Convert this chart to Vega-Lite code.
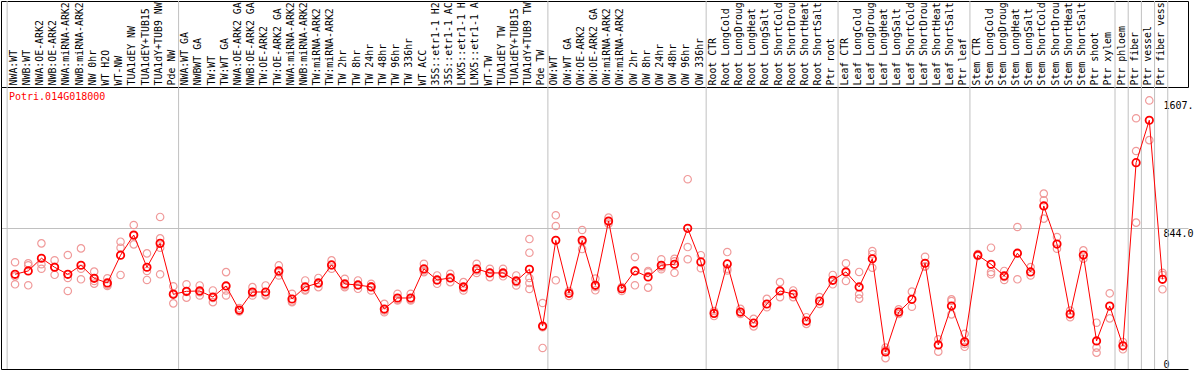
{
"$schema": "https://vega.github.io/schema/vega-lite/v6.json",
"padding": 0,
"spacing": 0,
"bounds": "flush",
"background": "white",
"config": {
  "view": {"stroke": null},
  "font": "DejaVu Sans Mono",
  "axis": {"labelFont": "DejaVu Sans Mono", "labelFontSize": 10, "labelColor": "#000"}
},
"datasets": {
  "starts": [{"c": "NWA:WT"}],
  "ends": [{"c": "Pde NW"}, {"c": "Pde TW"}, {"c": "OW 336hr"}, {"c": "Ptr root"}, {"c": "Ptr leaf"}, {"c": "Ptr xylem"}, {"c": "Ptr phloem"}, {"c": "Ptr fiber"}, {"c": "Ptr vessel"}, {"c": "Ptr fiber vessel"}],
  "means": [
    {"i": 1, "c": "NWA:WT", "v": 567}, {"i": 2, "c": "NWB:WT", "v": 587}, {"i": 3, "c": "NWA:OE-ARK2", "v": 663}, {"i": 4, "c": "NWB:OE-ARK2", "v": 609},
    {"i": 5, "c": "NWA:miRNA-ARK2", "v": 567}, {"i": 6, "c": "NWB:miRNA-ARK2", "v": 621}, {"i": 7, "c": "NW 0hr", "v": 543}, {"i": 8, "c": "WT H2O", "v": 515},
    {"i": 9, "c": "WT-NW", "v": 681}, {"i": 10, "c": "TUA1dEY NW", "v": 802}, {"i": 11, "c": "TUA1dEY+TUB15 NW", "v": 609}, {"i": 12, "c": "TUA1dY+TUB9 NW", "v": 752},
    {"i": 13, "c": "Pde NW", "v": 447}, {"i": 14, "c": "NWA:WT GA", "v": 465}, {"i": 15, "c": "NWBWT GA", "v": 467}, {"i": 16, "c": "TW:WT", "v": 431},
    {"i": 17, "c": "TW:WT GA", "v": 497}, {"i": 18, "c": "NWA:OE-ARK2 GA", "v": 353}, {"i": 19, "c": "NWB:OE-ARK2 GA", "v": 461}, {"i": 20, "c": "TW:OE-ARK2", "v": 461},
    {"i": 21, "c": "TW:OE-ARK2 GA", "v": 587}, {"i": 22, "c": "NWA:miRNA-ARK2 GA", "v": 419}, {"i": 23, "c": "NWB:miRNA-ARK2 GA", "v": 491}, {"i": 24, "c": "TW:miRNA-ARK2", "v": 515},
    {"i": 25, "c": "TW:miRNA-ARK2 GA", "v": 623}, {"i": 26, "c": "TW 2hr", "v": 509}, {"i": 27, "c": "TW 8hr", "v": 503}, {"i": 28, "c": "TW 24hr", "v": 491},
    {"i": 29, "c": "TW 48hr", "v": 359}, {"i": 30, "c": "TW 96hr", "v": 425}, {"i": 31, "c": "TW 336hr", "v": 425}, {"i": 32, "c": "WT ACC", "v": 599},
    {"i": 33, "c": "35S::etr1-1 H2O", "v": 533}, {"i": 34, "c": "35S::etr1-1 ACC", "v": 545}, {"i": 35, "c": "LMX5::etr1-1 H2O", "v": 491}, {"i": 36, "c": "LMX5::etr1-1 ACC", "v": 599},
    {"i": 37, "c": "WT-TW", "v": 575}, {"i": 38, "c": "TUA1dEY TW", "v": 575}, {"i": 39, "c": "TUA1dEY+TUB15 TW", "v": 527}, {"i": 40, "c": "TUA1dY+TUB9 TW", "v": 597},
    {"i": 41, "c": "Pde TW", "v": 257}, {"i": 42, "c": "OW:WT", "v": 770}, {"i": 43, "c": "OW:WT GA", "v": 453}, {"i": 44, "c": "OW:OE-ARK2", "v": 770},
    {"i": 45, "c": "OW:OE-ARK2 GA", "v": 501}, {"i": 46, "c": "OW:miRNA-ARK2", "v": 886}, {"i": 47, "c": "OW:miRNA-ARK2 GA", "v": 481}, {"i": 48, "c": "OW 2hr", "v": 587},
    {"i": 49, "c": "OW 8hr", "v": 551}, {"i": 50, "c": "OW 24hr", "v": 621}, {"i": 51, "c": "OW 48hr", "v": 627}, {"i": 52, "c": "OW 96hr", "v": 842},
    {"i": 53, "c": "OW 336hr", "v": 641}, {"i": 54, "c": "Root CTR", "v": 333}, {"i": 55, "c": "Root LongCold", "v": 629}, {"i": 56, "c": "Root LongDrought", "v": 341},
    {"i": 57, "c": "Root LongHeat", "v": 275}, {"i": 58, "c": "Root LongSalt", "v": 389}, {"i": 59, "c": "Root ShortCold", "v": 467}, {"i": 60, "c": "Root ShortDrought", "v": 449},
    {"i": 61, "c": "Root ShortHeat", "v": 287}, {"i": 62, "c": "Root ShortSalt", "v": 407}, {"i": 63, "c": "Ptr root", "v": 531}, {"i": 64, "c": "Leaf CTR", "v": 581},
    {"i": 65, "c": "Leaf LongCold", "v": 491}, {"i": 66, "c": "Leaf LongDrought", "v": 660}, {"i": 67, "c": "Leaf LongHeat", "v": 102}, {"i": 68, "c": "Leaf LongSalt", "v": 341},
    {"i": 69, "c": "Leaf ShortCold", "v": 417}, {"i": 70, "c": "Leaf ShortDrought", "v": 633}, {"i": 71, "c": "Leaf ShortHeat", "v": 144}, {"i": 72, "c": "Leaf ShortSalt", "v": 377},
    {"i": 73, "c": "Ptr leaf", "v": 163}, {"i": 74, "c": "Stem CTR", "v": 681}, {"i": 75, "c": "Stem LongCold", "v": 627}, {"i": 76, "c": "Stem LongDrought", "v": 557},
    {"i": 77, "c": "Stem LongHeat", "v": 693}, {"i": 78, "c": "Stem LongSalt", "v": 581}, {"i": 79, "c": "Stem ShortCold", "v": 976}, {"i": 80, "c": "Stem ShortDrought", "v": 748},
    {"i": 81, "c": "Stem ShortHeat", "v": 329}, {"i": 82, "c": "Stem ShortSalt", "v": 682}, {"i": 83, "c": "Ptr shoot", "v": 168}, {"i": 84, "c": "Ptr xylem", "v": 377},
    {"i": 85, "c": "Ptr phloem", "v": 139}, {"i": 86, "c": "Ptr fiber", "v": 1235}, {"i": 87, "c": "Ptr vessel", "v": 1489}, {"i": 88, "c": "Ptr fiber vessel", "v": 537}
  ],
  "reps": [
    {"c": "NWA:WT", "v": 639}, {"c": "NWA:WT", "v": 507}, {"c": "NWA:WT", "v": 555},
    {"c": "NWB:WT", "v": 633}, {"c": "NWB:WT", "v": 621}, {"c": "NWB:WT", "v": 501},
    {"c": "NWA:OE-ARK2", "v": 752}, {"c": "NWA:OE-ARK2", "v": 627}, {"c": "NWA:OE-ARK2", "v": 600},
    {"c": "NWB:OE-ARK2", "v": 651}, {"c": "NWB:OE-ARK2", "v": 564}, {"c": "NWB:OE-ARK2", "v": 612},
    {"c": "NWA:miRNA-ARK2", "v": 682}, {"c": "NWA:miRNA-ARK2", "v": 545}, {"c": "NWA:miRNA-ARK2", "v": 467},
    {"c": "NWB:miRNA-ARK2", "v": 722}, {"c": "NWB:miRNA-ARK2", "v": 600}, {"c": "NWB:miRNA-ARK2", "v": 537},
    {"c": "NW 0hr", "v": 583}, {"c": "NW 0hr", "v": 527}, {"c": "NW 0hr", "v": 511},
    {"c": "WT H2O", "v": 543}, {"c": "WT H2O", "v": 497}, {"c": "WT H2O", "v": 505},
    {"c": "WT-NW", "v": 762}, {"c": "WT-NW", "v": 726}, {"c": "WT-NW", "v": 563},
    {"c": "TUA1dEY NW", "v": 862}, {"c": "TUA1dEY NW", "v": 746}, {"c": "TUA1dEY NW", "v": 798},
    {"c": "TUA1dEY+TUB15 NW", "v": 692}, {"c": "TUA1dEY+TUB15 NW", "v": 587}, {"c": "TUA1dEY+TUB15 NW", "v": 533},
    {"c": "TUA1dY+TUB9 NW", "v": 910}, {"c": "TUA1dY+TUB9 NW", "v": 782}, {"c": "TUA1dY+TUB9 NW", "v": 726}, {"c": "TUA1dY+TUB9 NW", "v": 567},
    {"c": "Pde NW", "v": 495}, {"c": "Pde NW", "v": 393}, {"c": "Pde NW", "v": 453},
    {"c": "NWA:WT GA", "v": 507}, {"c": "NWA:WT GA", "v": 427}, {"c": "NWA:WT GA", "v": 461},
    {"c": "NWBWT GA", "v": 500}, {"c": "NWBWT GA", "v": 440}, {"c": "NWBWT GA", "v": 460},
    {"c": "TW:WT", "v": 470}, {"c": "TW:WT", "v": 400}, {"c": "TW:WT", "v": 425},
    {"c": "TW:WT GA", "v": 580}, {"c": "TW:WT GA", "v": 470}, {"c": "TW:WT GA", "v": 440},
    {"c": "NWA:OE-ARK2 GA", "v": 365}, {"c": "NWA:OE-ARK2 GA", "v": 345}, {"c": "NWA:OE-ARK2 GA", "v": 350},
    {"c": "NWB:OE-ARK2 GA", "v": 490}, {"c": "NWB:OE-ARK2 GA", "v": 440}, {"c": "NWB:OE-ARK2 GA", "v": 455},
    {"c": "TW:OE-ARK2", "v": 500}, {"c": "TW:OE-ARK2", "v": 440}, {"c": "TW:OE-ARK2", "v": 445},
    {"c": "TW:OE-ARK2 GA", "v": 620}, {"c": "TW:OE-ARK2 GA", "v": 560}, {"c": "TW:OE-ARK2 GA", "v": 580},
    {"c": "NWA:miRNA-ARK2 GA", "v": 450}, {"c": "NWA:miRNA-ARK2 GA", "v": 400}, {"c": "NWA:miRNA-ARK2 GA", "v": 405},
    {"c": "NWB:miRNA-ARK2 GA", "v": 530}, {"c": "NWB:miRNA-ARK2 GA", "v": 470}, {"c": "NWB:miRNA-ARK2 GA", "v": 475},
    {"c": "TW:miRNA-ARK2", "v": 545}, {"c": "TW:miRNA-ARK2", "v": 490}, {"c": "TW:miRNA-ARK2", "v": 510},
    {"c": "TW:miRNA-ARK2 GA", "v": 650}, {"c": "TW:miRNA-ARK2 GA", "v": 600}, {"c": "TW:miRNA-ARK2 GA", "v": 620},
    {"c": "TW 2hr", "v": 540}, {"c": "TW 2hr", "v": 490}, {"c": "TW 2hr", "v": 500},
    {"c": "TW 8hr", "v": 530}, {"c": "TW 8hr", "v": 480}, {"c": "TW 8hr", "v": 500},
    {"c": "TW 24hr", "v": 510}, {"c": "TW 24hr", "v": 470}, {"c": "TW 24hr", "v": 495},
    {"c": "TW 48hr", "v": 390}, {"c": "TW 48hr", "v": 340}, {"c": "TW 48hr", "v": 350},
    {"c": "TW 96hr", "v": 450}, {"c": "TW 96hr", "v": 410}, {"c": "TW 96hr", "v": 415},
    {"c": "TW 336hr", "v": 450}, {"c": "TW 336hr", "v": 410}, {"c": "TW 336hr", "v": 415},
    {"c": "WT ACC", "v": 630}, {"c": "WT ACC", "v": 580}, {"c": "WT ACC", "v": 590},
    {"c": "35S::etr1-1 H2O", "v": 560}, {"c": "35S::etr1-1 H2O", "v": 510}, {"c": "35S::etr1-1 H2O", "v": 530},
    {"c": "35S::etr1-1 ACC", "v": 570}, {"c": "35S::etr1-1 ACC", "v": 520}, {"c": "35S::etr1-1 ACC", "v": 545},
    {"c": "LMX5::etr1-1 H2O", "v": 520}, {"c": "LMX5::etr1-1 H2O", "v": 470}, {"c": "LMX5::etr1-1 H2O", "v": 485},
    {"c": "LMX5::etr1-1 ACC", "v": 630}, {"c": "LMX5::etr1-1 ACC", "v": 575}, {"c": "LMX5::etr1-1 ACC", "v": 590},
    {"c": "WT-TW", "v": 600}, {"c": "WT-TW", "v": 550}, {"c": "WT-TW", "v": 575},
    {"c": "TUA1dEY TW", "v": 600}, {"c": "TUA1dEY TW", "v": 555}, {"c": "TUA1dEY TW", "v": 570},
    {"c": "TUA1dEY+TUB15 TW", "v": 560}, {"c": "TUA1dEY+TUB15 TW", "v": 500}, {"c": "TUA1dEY+TUB15 TW", "v": 520},
    {"c": "TUA1dY+TUB9 TW", "v": 778}, {"c": "TUA1dY+TUB9 TW", "v": 696}, {"c": "TUA1dY+TUB9 TW", "v": 545}, {"c": "TUA1dY+TUB9 TW", "v": 515}, {"c": "TUA1dY+TUB9 TW", "v": 479},
    {"c": "Pde TW", "v": 395}, {"c": "Pde TW", "v": 126}, {"c": "Pde TW", "v": 250},
    {"c": "OW:WT", "v": 920}, {"c": "OW:WT", "v": 856}, {"c": "OW:WT", "v": 531},
    {"c": "OW:WT GA", "v": 467}, {"c": "OW:WT GA", "v": 437}, {"c": "OW:WT GA", "v": 455},
    {"c": "OW:OE-ARK2", "v": 832}, {"c": "OW:OE-ARK2", "v": 718}, {"c": "OW:OE-ARK2", "v": 760},
    {"c": "OW:OE-ARK2 GA", "v": 541}, {"c": "OW:OE-ARK2 GA", "v": 471}, {"c": "OW:OE-ARK2 GA", "v": 491},
    {"c": "OW:miRNA-ARK2", "v": 906}, {"c": "OW:miRNA-ARK2", "v": 870}, {"c": "OW:miRNA-ARK2", "v": 882},
    {"c": "OW:miRNA-ARK2 GA", "v": 491}, {"c": "OW:miRNA-ARK2 GA", "v": 467}, {"c": "OW:miRNA-ARK2 GA", "v": 479},
    {"c": "OW 2hr", "v": 670}, {"c": "OW 2hr", "v": 501}, {"c": "OW 2hr", "v": 587},
    {"c": "OW 8hr", "v": 587}, {"c": "OW 8hr", "v": 487}, {"c": "OW 8hr", "v": 579},
    {"c": "OW 24hr", "v": 657}, {"c": "OW 24hr", "v": 597}, {"c": "OW 24hr", "v": 609},
    {"c": "OW 48hr", "v": 660}, {"c": "OW 48hr", "v": 576}, {"c": "OW 48hr", "v": 645},
    {"c": "OW 96hr", "v": 1136}, {"c": "OW 96hr", "v": 730}, {"c": "OW 96hr", "v": 657},
    {"c": "OW 336hr", "v": 681}, {"c": "OW 336hr", "v": 603},
    {"c": "Root CTR", "v": 347}, {"c": "Root CTR", "v": 317},
    {"c": "Root LongCold", "v": 700}, {"c": "Root LongCold", "v": 600}, {"c": "Root LongCold", "v": 590},
    {"c": "Root LongDrought", "v": 360}, {"c": "Root LongDrought", "v": 330},
    {"c": "Root LongHeat", "v": 300}, {"c": "Root LongHeat", "v": 255},
    {"c": "Root LongSalt", "v": 420}, {"c": "Root LongSalt", "v": 370},
    {"c": "Root ShortCold", "v": 520}, {"c": "Root ShortCold", "v": 430},
    {"c": "Root ShortDrought", "v": 470}, {"c": "Root ShortDrought", "v": 430},
    {"c": "Root ShortHeat", "v": 310}, {"c": "Root ShortHeat", "v": 270},
    {"c": "Root ShortSalt", "v": 430}, {"c": "Root ShortSalt", "v": 390},
    {"c": "Ptr root", "v": 563}, {"c": "Ptr root", "v": 507},
    {"c": "Leaf CTR", "v": 633}, {"c": "Leaf CTR", "v": 527},
    {"c": "Leaf LongCold", "v": 581}, {"c": "Leaf LongCold", "v": 447}, {"c": "Leaf LongCold", "v": 421},
    {"c": "Leaf LongDrought", "v": 706}, {"c": "Leaf LongDrought", "v": 687}, {"c": "Leaf LongDrought", "v": 606},
    {"c": "Leaf LongHeat", "v": 128}, {"c": "Leaf LongHeat", "v": 114}, {"c": "Leaf LongHeat", "v": 65},
    {"c": "Leaf LongSalt", "v": 357}, {"c": "Leaf LongSalt", "v": 329},
    {"c": "Leaf ShortCold", "v": 463}, {"c": "Leaf ShortCold", "v": 373},
    {"c": "Leaf ShortDrought", "v": 672}, {"c": "Leaf ShortDrought", "v": 612}, {"c": "Leaf ShortDrought", "v": 615},
    {"c": "Leaf ShortHeat", "v": 178}, {"c": "Leaf ShortHeat", "v": 104},
    {"c": "Leaf ShortSalt", "v": 417}, {"c": "Leaf ShortSalt", "v": 407}, {"c": "Leaf ShortSalt", "v": 327},
    {"c": "Ptr leaf", "v": 211}, {"c": "Ptr leaf", "v": 133}, {"c": "Ptr leaf", "v": 150},
    {"c": "Stem CTR", "v": 688}, {"c": "Stem CTR", "v": 676},
    {"c": "Stem LongCold", "v": 726}, {"c": "Stem LongCold", "v": 581}, {"c": "Stem LongCold", "v": 567},
    {"c": "Stem LongDrought", "v": 587}, {"c": "Stem LongDrought", "v": 551}, {"c": "Stem LongDrought", "v": 533},
    {"c": "Stem LongHeat", "v": 850}, {"c": "Stem LongHeat", "v": 537},
    {"c": "Stem LongSalt", "v": 610}, {"c": "Stem LongSalt", "v": 560},
    {"c": "Stem ShortCold", "v": 1050}, {"c": "Stem ShortCold", "v": 1010}, {"c": "Stem ShortCold", "v": 900},
    {"c": "Stem ShortDrought", "v": 790}, {"c": "Stem ShortDrought", "v": 720},
    {"c": "Stem ShortHeat", "v": 350}, {"c": "Stem ShortHeat", "v": 310},
    {"c": "Stem ShortSalt", "v": 710}, {"c": "Stem ShortSalt", "v": 660},
    {"c": "Ptr shoot", "v": 277}, {"c": "Ptr shoot", "v": 128}, {"c": "Ptr shoot", "v": 98},
    {"c": "Ptr xylem", "v": 453}, {"c": "Ptr xylem", "v": 303},
    {"c": "Ptr phloem", "v": 118}, {"c": "Ptr phloem", "v": 138}, {"c": "Ptr phloem", "v": 162},
    {"c": "Ptr fiber", "v": 1501}, {"c": "Ptr fiber", "v": 1305}, {"c": "Ptr fiber", "v": 876},
    {"c": "Ptr vessel", "v": 1607.6}, {"c": "Ptr vessel", "v": 1370},
    {"c": "Ptr fiber vessel", "v": 576}, {"c": "Ptr fiber vessel", "v": 563}, {"c": "Ptr fiber vessel", "v": 477}
  ]
},
"vconcat": [
  {
    "width": 1187, "height": 86,
    "view": {"stroke": "#000", "strokeWidth": 1},
    "layer": [
      {
        "data": {"name": "starts"},
        "mark": {"type": "rule", "color": "#c0c0c0", "strokeWidth": 1},
        "encoding": {"x": {"field": "c", "type": "nominal", "bandPosition": 0,
          "scale": {"type": "band", "paddingInner": 0, "paddingOuter": 1.654, "align": 0.2326, "domain": ["NWA:WT","NWB:WT","NWA:OE-ARK2","NWB:OE-ARK2","NWA:miRNA-ARK2","NWB:miRNA-ARK2","NW 0hr","WT H2O","WT-NW","TUA1dEY NW","TUA1dEY+TUB15 NW","TUA1dY+TUB9 NW","Pde NW","NWA:WT GA","NWBWT GA","TW:WT","TW:WT GA","NWA:OE-ARK2 GA","NWB:OE-ARK2 GA","TW:OE-ARK2","TW:OE-ARK2 GA","NWA:miRNA-ARK2 GA","NWB:miRNA-ARK2 GA","TW:miRNA-ARK2","TW:miRNA-ARK2 GA","TW 2hr","TW 8hr","TW 24hr","TW 48hr","TW 96hr","TW 336hr","WT ACC","35S::etr1-1 H2O","35S::etr1-1 ACC","LMX5::etr1-1 H2O","LMX5::etr1-1 ACC","WT-TW","TUA1dEY TW","TUA1dEY+TUB15 TW","TUA1dY+TUB9 TW","Pde TW","OW:WT","OW:WT GA","OW:OE-ARK2","OW:OE-ARK2 GA","OW:miRNA-ARK2","OW:miRNA-ARK2 GA","OW 2hr","OW 8hr","OW 24hr","OW 48hr","OW 96hr","OW 336hr","Root CTR","Root LongCold","Root LongDrought","Root LongHeat","Root LongSalt","Root ShortCold","Root ShortDrought","Root ShortHeat","Root ShortSalt","Ptr root","Leaf CTR","Leaf LongCold","Leaf LongDrought","Leaf LongHeat","Leaf LongSalt","Leaf ShortCold","Leaf ShortDrought","Leaf ShortHeat","Leaf ShortSalt","Ptr leaf","Stem CTR","Stem LongCold","Stem LongDrought","Stem LongHeat","Stem LongSalt","Stem ShortCold","Stem ShortDrought","Stem ShortHeat","Stem ShortSalt","Ptr shoot","Ptr xylem","Ptr phloem","Ptr fiber","Ptr vessel","Ptr fiber vessel"]},
          "axis": {"orient": "top", "offset": -86, "labelAngle": -90, "labelAlign": "left", "labelBaseline": "middle", "labelPadding": 2, "labelLimit": 300, "labelFontSize": 9.9, "labelExpr": "substring(datum.label, 0, 14)", "labelOverlap": false, "ticks": false, "domain": false, "grid": false, "bandPosition": 0.6, "title": null}}}
      },
      {
        "data": {"name": "ends"},
        "mark": {"type": "rule", "color": "#c0c0c0", "strokeWidth": 1},
        "encoding": {"x": {"field": "c", "type": "nominal", "bandPosition": 1,
          "scale": {"type": "band", "paddingInner": 0, "paddingOuter": 1.654, "align": 0.2326, "domain": ["NWA:WT","NWB:WT","NWA:OE-ARK2","NWB:OE-ARK2","NWA:miRNA-ARK2","NWB:miRNA-ARK2","NW 0hr","WT H2O","WT-NW","TUA1dEY NW","TUA1dEY+TUB15 NW","TUA1dY+TUB9 NW","Pde NW","NWA:WT GA","NWBWT GA","TW:WT","TW:WT GA","NWA:OE-ARK2 GA","NWB:OE-ARK2 GA","TW:OE-ARK2","TW:OE-ARK2 GA","NWA:miRNA-ARK2 GA","NWB:miRNA-ARK2 GA","TW:miRNA-ARK2","TW:miRNA-ARK2 GA","TW 2hr","TW 8hr","TW 24hr","TW 48hr","TW 96hr","TW 336hr","WT ACC","35S::etr1-1 H2O","35S::etr1-1 ACC","LMX5::etr1-1 H2O","LMX5::etr1-1 ACC","WT-TW","TUA1dEY TW","TUA1dEY+TUB15 TW","TUA1dY+TUB9 TW","Pde TW","OW:WT","OW:WT GA","OW:OE-ARK2","OW:OE-ARK2 GA","OW:miRNA-ARK2","OW:miRNA-ARK2 GA","OW 2hr","OW 8hr","OW 24hr","OW 48hr","OW 96hr","OW 336hr","Root CTR","Root LongCold","Root LongDrought","Root LongHeat","Root LongSalt","Root ShortCold","Root ShortDrought","Root ShortHeat","Root ShortSalt","Ptr root","Leaf CTR","Leaf LongCold","Leaf LongDrought","Leaf LongHeat","Leaf LongSalt","Leaf ShortCold","Leaf ShortDrought","Leaf ShortHeat","Leaf ShortSalt","Ptr leaf","Stem CTR","Stem LongCold","Stem LongDrought","Stem LongHeat","Stem LongSalt","Stem ShortCold","Stem ShortDrought","Stem ShortHeat","Stem ShortSalt","Ptr shoot","Ptr xylem","Ptr phloem","Ptr fiber","Ptr vessel","Ptr fiber vessel"]},
          "axis": {"orient": "top", "offset": -86, "labelAngle": -90, "labelAlign": "left", "labelBaseline": "middle", "labelPadding": 2, "labelLimit": 300, "labelFontSize": 9.9, "labelExpr": "substring(datum.label, 0, 14)", "labelOverlap": false, "ticks": false, "domain": false, "grid": false, "bandPosition": 0.6, "title": null}}}
      }
    ]
  },
  {
    "width": 1187, "height": 282,
    "title": {"text": "Potri.014G018000", "anchor": "start", "frame": "group", "orient": "top", "offset": 0, "baseline": "top", "dx": 8, "dy": 15, "color": "#ff0000", "font": "DejaVu Sans Mono", "fontSize": 10, "fontWeight": "normal"},
    "resolve": {"axis": {"y": "independent"}},
    "layer": [
      {
        "data": {"name": "starts"},
        "mark": {"type": "rule", "color": "#c0c0c0", "strokeWidth": 1},
        "encoding": {"x": {"field": "c", "type": "nominal", "bandPosition": 0,
          "scale": {"type": "band", "paddingInner": 0, "paddingOuter": 1.654, "align": 0.2326, "domain": ["NWA:WT","NWB:WT","NWA:OE-ARK2","NWB:OE-ARK2","NWA:miRNA-ARK2","NWB:miRNA-ARK2","NW 0hr","WT H2O","WT-NW","TUA1dEY NW","TUA1dEY+TUB15 NW","TUA1dY+TUB9 NW","Pde NW","NWA:WT GA","NWBWT GA","TW:WT","TW:WT GA","NWA:OE-ARK2 GA","NWB:OE-ARK2 GA","TW:OE-ARK2","TW:OE-ARK2 GA","NWA:miRNA-ARK2 GA","NWB:miRNA-ARK2 GA","TW:miRNA-ARK2","TW:miRNA-ARK2 GA","TW 2hr","TW 8hr","TW 24hr","TW 48hr","TW 96hr","TW 336hr","WT ACC","35S::etr1-1 H2O","35S::etr1-1 ACC","LMX5::etr1-1 H2O","LMX5::etr1-1 ACC","WT-TW","TUA1dEY TW","TUA1dEY+TUB15 TW","TUA1dY+TUB9 TW","Pde TW","OW:WT","OW:WT GA","OW:OE-ARK2","OW:OE-ARK2 GA","OW:miRNA-ARK2","OW:miRNA-ARK2 GA","OW 2hr","OW 8hr","OW 24hr","OW 48hr","OW 96hr","OW 336hr","Root CTR","Root LongCold","Root LongDrought","Root LongHeat","Root LongSalt","Root ShortCold","Root ShortDrought","Root ShortHeat","Root ShortSalt","Ptr root","Leaf CTR","Leaf LongCold","Leaf LongDrought","Leaf LongHeat","Leaf LongSalt","Leaf ShortCold","Leaf ShortDrought","Leaf ShortHeat","Leaf ShortSalt","Ptr leaf","Stem CTR","Stem LongCold","Stem LongDrought","Stem LongHeat","Stem LongSalt","Stem ShortCold","Stem ShortDrought","Stem ShortHeat","Stem ShortSalt","Ptr shoot","Ptr xylem","Ptr phloem","Ptr fiber","Ptr vessel","Ptr fiber vessel"]},
          "axis": {"orient": "bottom", "labels": false, "ticks": false, "domain": true, "domainColor": "#000", "domainWidth": 1, "grid": false, "title": null, "bandPosition": 0.6}}}
      },
      {
        "data": {"name": "ends"},
        "mark": {"type": "rule", "color": "#c0c0c0", "strokeWidth": 1},
        "encoding": {"x": {"field": "c", "type": "nominal", "bandPosition": 1,
          "scale": {"type": "band", "paddingInner": 0, "paddingOuter": 1.654, "align": 0.2326, "domain": ["NWA:WT","NWB:WT","NWA:OE-ARK2","NWB:OE-ARK2","NWA:miRNA-ARK2","NWB:miRNA-ARK2","NW 0hr","WT H2O","WT-NW","TUA1dEY NW","TUA1dEY+TUB15 NW","TUA1dY+TUB9 NW","Pde NW","NWA:WT GA","NWBWT GA","TW:WT","TW:WT GA","NWA:OE-ARK2 GA","NWB:OE-ARK2 GA","TW:OE-ARK2","TW:OE-ARK2 GA","NWA:miRNA-ARK2 GA","NWB:miRNA-ARK2 GA","TW:miRNA-ARK2","TW:miRNA-ARK2 GA","TW 2hr","TW 8hr","TW 24hr","TW 48hr","TW 96hr","TW 336hr","WT ACC","35S::etr1-1 H2O","35S::etr1-1 ACC","LMX5::etr1-1 H2O","LMX5::etr1-1 ACC","WT-TW","TUA1dEY TW","TUA1dEY+TUB15 TW","TUA1dY+TUB9 TW","Pde TW","OW:WT","OW:WT GA","OW:OE-ARK2","OW:OE-ARK2 GA","OW:miRNA-ARK2","OW:miRNA-ARK2 GA","OW 2hr","OW 8hr","OW 24hr","OW 48hr","OW 96hr","OW 336hr","Root CTR","Root LongCold","Root LongDrought","Root LongHeat","Root LongSalt","Root ShortCold","Root ShortDrought","Root ShortHeat","Root ShortSalt","Ptr root","Leaf CTR","Leaf LongCold","Leaf LongDrought","Leaf LongHeat","Leaf LongSalt","Leaf ShortCold","Leaf ShortDrought","Leaf ShortHeat","Leaf ShortSalt","Ptr leaf","Stem CTR","Stem LongCold","Stem LongDrought","Stem LongHeat","Stem LongSalt","Stem ShortCold","Stem ShortDrought","Stem ShortHeat","Stem ShortSalt","Ptr shoot","Ptr xylem","Ptr phloem","Ptr fiber","Ptr vessel","Ptr fiber vessel"]},
          "axis": {"orient": "bottom", "labels": false, "ticks": false, "domain": true, "domainColor": "#000", "domainWidth": 1, "grid": false, "title": null, "bandPosition": 0.6}}}
      },
      {
        "data": {"name": "reps"},
        "mark": {"type": "point", "shape": "circle", "filled": false, "size": 55, "stroke": "#f09a9a", "strokeWidth": 1.2, "opacity": 1},
        "encoding": {
          "x": {"field": "c", "type": "nominal", "bandPosition": 0.6,
            "scale": {"type": "band", "paddingInner": 0, "paddingOuter": 1.654, "align": 0.2326, "domain": ["NWA:WT","NWB:WT","NWA:OE-ARK2","NWB:OE-ARK2","NWA:miRNA-ARK2","NWB:miRNA-ARK2","NW 0hr","WT H2O","WT-NW","TUA1dEY NW","TUA1dEY+TUB15 NW","TUA1dY+TUB9 NW","Pde NW","NWA:WT GA","NWBWT GA","TW:WT","TW:WT GA","NWA:OE-ARK2 GA","NWB:OE-ARK2 GA","TW:OE-ARK2","TW:OE-ARK2 GA","NWA:miRNA-ARK2 GA","NWB:miRNA-ARK2 GA","TW:miRNA-ARK2","TW:miRNA-ARK2 GA","TW 2hr","TW 8hr","TW 24hr","TW 48hr","TW 96hr","TW 336hr","WT ACC","35S::etr1-1 H2O","35S::etr1-1 ACC","LMX5::etr1-1 H2O","LMX5::etr1-1 ACC","WT-TW","TUA1dEY TW","TUA1dEY+TUB15 TW","TUA1dY+TUB9 TW","Pde TW","OW:WT","OW:WT GA","OW:OE-ARK2","OW:OE-ARK2 GA","OW:miRNA-ARK2","OW:miRNA-ARK2 GA","OW 2hr","OW 8hr","OW 24hr","OW 48hr","OW 96hr","OW 336hr","Root CTR","Root LongCold","Root LongDrought","Root LongHeat","Root LongSalt","Root ShortCold","Root ShortDrought","Root ShortHeat","Root ShortSalt","Ptr root","Leaf CTR","Leaf LongCold","Leaf LongDrought","Leaf LongHeat","Leaf LongSalt","Leaf ShortCold","Leaf ShortDrought","Leaf ShortHeat","Leaf ShortSalt","Ptr leaf","Stem CTR","Stem LongCold","Stem LongDrought","Stem LongHeat","Stem LongSalt","Stem ShortCold","Stem ShortDrought","Stem ShortHeat","Stem ShortSalt","Ptr shoot","Ptr xylem","Ptr phloem","Ptr fiber","Ptr vessel","Ptr fiber vessel"]},
            "axis": {"orient": "bottom", "labels": false, "ticks": false, "domain": true, "domainColor": "#000", "domainWidth": 1, "grid": false, "title": null, "bandPosition": 0.6}},
          "y": {"field": "v", "type": "quantitative", "scale": {"domain": [0, 1688], "nice": false, "zero": true},
            "axis": {"orient": "left", "labels": false, "ticks": false, "domain": true, "domainColor": "#000", "domainWidth": 1, "grid": true, "values": [844], "gridColor": "#c0c0c0", "gridWidth": 1, "title": null}}
        }
      },
      {
        "data": {"name": "means"},
        "mark": {"type": "line", "color": "#ff0000", "strokeWidth": 1},
        "encoding": {
          "x": {"field": "c", "type": "nominal", "bandPosition": 0.6,
            "scale": {"type": "band", "paddingInner": 0, "paddingOuter": 1.654, "align": 0.2326, "domain": ["NWA:WT","NWB:WT","NWA:OE-ARK2","NWB:OE-ARK2","NWA:miRNA-ARK2","NWB:miRNA-ARK2","NW 0hr","WT H2O","WT-NW","TUA1dEY NW","TUA1dEY+TUB15 NW","TUA1dY+TUB9 NW","Pde NW","NWA:WT GA","NWBWT GA","TW:WT","TW:WT GA","NWA:OE-ARK2 GA","NWB:OE-ARK2 GA","TW:OE-ARK2","TW:OE-ARK2 GA","NWA:miRNA-ARK2 GA","NWB:miRNA-ARK2 GA","TW:miRNA-ARK2","TW:miRNA-ARK2 GA","TW 2hr","TW 8hr","TW 24hr","TW 48hr","TW 96hr","TW 336hr","WT ACC","35S::etr1-1 H2O","35S::etr1-1 ACC","LMX5::etr1-1 H2O","LMX5::etr1-1 ACC","WT-TW","TUA1dEY TW","TUA1dEY+TUB15 TW","TUA1dY+TUB9 TW","Pde TW","OW:WT","OW:WT GA","OW:OE-ARK2","OW:OE-ARK2 GA","OW:miRNA-ARK2","OW:miRNA-ARK2 GA","OW 2hr","OW 8hr","OW 24hr","OW 48hr","OW 96hr","OW 336hr","Root CTR","Root LongCold","Root LongDrought","Root LongHeat","Root LongSalt","Root ShortCold","Root ShortDrought","Root ShortHeat","Root ShortSalt","Ptr root","Leaf CTR","Leaf LongCold","Leaf LongDrought","Leaf LongHeat","Leaf LongSalt","Leaf ShortCold","Leaf ShortDrought","Leaf ShortHeat","Leaf ShortSalt","Ptr leaf","Stem CTR","Stem LongCold","Stem LongDrought","Stem LongHeat","Stem LongSalt","Stem ShortCold","Stem ShortDrought","Stem ShortHeat","Stem ShortSalt","Ptr shoot","Ptr xylem","Ptr phloem","Ptr fiber","Ptr vessel","Ptr fiber vessel"]},
            "axis": {"orient": "bottom", "labels": false, "ticks": false, "domain": true, "domainColor": "#000", "domainWidth": 1, "grid": false, "title": null, "bandPosition": 0.6}},
          "y": {"field": "v", "type": "quantitative", "scale": {"domain": [0, 1688], "nice": false, "zero": true}, "axis": null},
          "order": {"field": "i", "type": "quantitative"}
        }
      },
      {
        "data": {"name": "means"},
        "mark": {"type": "point", "shape": "circle", "filled": false, "size": 55, "stroke": "#ff0000", "strokeWidth": 1.8, "opacity": 1},
        "encoding": {
          "x": {"field": "c", "type": "nominal", "bandPosition": 0.6,
            "scale": {"type": "band", "paddingInner": 0, "paddingOuter": 1.654, "align": 0.2326, "domain": ["NWA:WT","NWB:WT","NWA:OE-ARK2","NWB:OE-ARK2","NWA:miRNA-ARK2","NWB:miRNA-ARK2","NW 0hr","WT H2O","WT-NW","TUA1dEY NW","TUA1dEY+TUB15 NW","TUA1dY+TUB9 NW","Pde NW","NWA:WT GA","NWBWT GA","TW:WT","TW:WT GA","NWA:OE-ARK2 GA","NWB:OE-ARK2 GA","TW:OE-ARK2","TW:OE-ARK2 GA","NWA:miRNA-ARK2 GA","NWB:miRNA-ARK2 GA","TW:miRNA-ARK2","TW:miRNA-ARK2 GA","TW 2hr","TW 8hr","TW 24hr","TW 48hr","TW 96hr","TW 336hr","WT ACC","35S::etr1-1 H2O","35S::etr1-1 ACC","LMX5::etr1-1 H2O","LMX5::etr1-1 ACC","WT-TW","TUA1dEY TW","TUA1dEY+TUB15 TW","TUA1dY+TUB9 TW","Pde TW","OW:WT","OW:WT GA","OW:OE-ARK2","OW:OE-ARK2 GA","OW:miRNA-ARK2","OW:miRNA-ARK2 GA","OW 2hr","OW 8hr","OW 24hr","OW 48hr","OW 96hr","OW 336hr","Root CTR","Root LongCold","Root LongDrought","Root LongHeat","Root LongSalt","Root ShortCold","Root ShortDrought","Root ShortHeat","Root ShortSalt","Ptr root","Leaf CTR","Leaf LongCold","Leaf LongDrought","Leaf LongHeat","Leaf LongSalt","Leaf ShortCold","Leaf ShortDrought","Leaf ShortHeat","Leaf ShortSalt","Ptr leaf","Stem CTR","Stem LongCold","Stem LongDrought","Stem LongHeat","Stem LongSalt","Stem ShortCold","Stem ShortDrought","Stem ShortHeat","Stem ShortSalt","Ptr shoot","Ptr xylem","Ptr phloem","Ptr fiber","Ptr vessel","Ptr fiber vessel"]},
            "axis": {"orient": "bottom", "labels": false, "ticks": false, "domain": true, "domainColor": "#000", "domainWidth": 1, "grid": false, "title": null, "bandPosition": 0.6}},
          "y": {"field": "v", "type": "quantitative", "scale": {"domain": [0, 1688], "nice": false, "zero": true},
            "axis": {"orient": "right", "values": [0, 844, 1607.6], "labelExpr": "datum.value == 0 ? '0' : substring(format(datum.value, '.1f'), 0, 5)", "offset": -25, "ticks": false, "tickSize": 0, "domain": false, "grid": false, "labelPadding": 0, "labelLimit": 60, "labelAlign": "left", "labelBaseline": {"condition": {"test": "datum.value == 0", "value": "bottom"}, "value": "top"}, "title": null}}
        }
      }
    ]
  }
]
}
